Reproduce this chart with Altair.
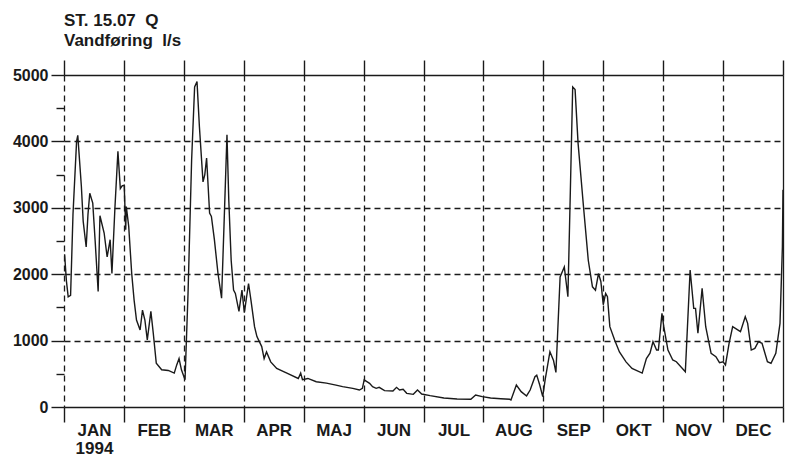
import altair as alt
import pandas as pd

# Month labels and year
months = ["JAN", "FEB", "MAR", "APR", "MAJ", "JUN", "JUL", "AUG", "SEP", "OKT", "NOV", "DEC"]
year_label = "1994"

# Y axis tick values (l/s)
y_ticks = [0, 500, 1000, 1500, 2000, 2500, 3000, 3500, 4000, 4500, 5000]

# Time position in months since 1 Jan (0 = 1 Jan, 12 = 31 Dec)
pos = [0.01, 0.04, 0.07, 0.11, 0.15, 0.21, 0.23, 0.29, 0.32, 0.37, 0.40, 0.43, 0.48, 0.52, 0.57,
       0.60, 0.67, 0.72, 0.77, 0.80, 0.85, 0.90, 0.94, 0.97, 1.005, 1.03, 1.04, 1.08, 1.13, 1.17,
       1.21, 1.27, 1.31, 1.35, 1.39, 1.45, 1.49, 1.54, 1.63, 1.74, 1.84, 1.88, 1.92, 1.96, 2.02,
       2.07, 2.13, 2.18, 2.22, 2.26, 2.32, 2.35, 2.38, 2.43, 2.46, 2.51, 2.57, 2.63, 2.67, 2.72,
       2.75, 2.79, 2.83, 2.86, 2.92, 2.97, 3.01, 3.08, 3.12, 3.18, 3.22, 3.30, 3.34, 3.38, 3.45,
       3.55, 3.72, 3.91, 3.95, 3.98, 4.07, 4.21, 4.38, 4.54, 4.65, 4.82, 4.93, 4.98, 5.01, 5.10,
       5.15, 5.21, 5.26, 5.35, 5.49, 5.55, 5.60, 5.66, 5.72, 5.83, 5.90, 5.97, 6.11, 6.34, 6.56,
       6.79, 6.87, 6.98, 7.12, 7.29, 7.44, 7.46, 7.55, 7.63, 7.72, 7.78, 7.86, 7.89, 7.94, 7.99,
       8.03, 8.11, 8.17, 8.21, 8.28, 8.35, 8.41, 8.45, 8.49, 8.53, 8.58, 8.67, 8.75, 8.82, 8.87,
       8.92, 8.96, 9.00, 9.04, 9.07, 9.11, 9.19, 9.27, 9.38, 9.48, 9.65, 9.72, 9.78, 9.83, 9.89,
       9.92, 9.98, 10.01, 10.08, 10.16, 10.22, 10.37, 10.45, 10.51, 10.54, 10.58, 10.65, 10.71, 10.80, 10.88,
       10.94, 11.00, 11.04, 11.10, 11.16, 11.29, 11.37, 11.41, 11.47, 11.53, 11.59, 11.65, 11.74, 11.80, 11.88,
       11.95, 11.99, 12.0]

# Discharge (l/s)
flow = [2300, 1900, 1660, 1680, 2900, 4000, 4090, 3320, 2800, 2410, 2900, 3220, 3070, 2500, 1740,
        2880, 2620, 2260, 2520, 2010, 3000, 3850, 3290, 3330, 3340, 2670, 3020, 2720, 2010, 1610,
        1310, 1160, 1460, 1310, 1010, 1440, 1110, 660, 560, 550, 510, 630, 730, 560, 410,
        1710, 3720, 4820, 4900, 4220, 3390, 3500, 3750, 2920, 2870, 2520, 2010, 1640, 2720, 4100,
        3120, 2210, 1760, 1710, 1440, 1760, 1420, 1860, 1610, 1210, 1060, 910, 730, 830, 680,
        580, 510, 430, 510, 410, 430, 380, 360, 330, 306, 280, 256, 280, 407, 357,
        306, 281, 296, 246, 241, 296, 256, 266, 206, 191, 256, 196, 171, 136, 120,
        116, 181, 156, 136, 125, 116, 105, 331, 231, 166, 256, 457, 480, 331, 156,
        407, 833, 700, 520, 1960, 2110, 1660, 3220, 4820, 4780, 3970, 3020, 2210, 1810, 1760,
        2010, 1890, 1540, 1710, 1660, 1210, 1010, 830, 680, 580, 510, 730, 810, 983, 858,
        858, 1410, 1210, 858, 708, 682, 532, 2063, 1486, 1486, 1110, 1787, 1209, 808, 758,
        667, 682, 633, 959, 1209, 1134, 1360, 1260, 858, 883, 983, 959, 682, 657, 808,
        1260, 2414, 3270]

df = pd.DataFrame({"pos": pos, "flow": flow})

FONT = "Liberation Sans"
INK = "#1a1a1a"

month_js = "[" + ",".join("'" + m + "'" for m in months) + "]"
label_expr = (
    "datum.value % 1 === 0 ? '' : (floor(datum.value) === 0 ? ['"
    + months[0] + "', '" + year_label + "'] : " + month_js + "[floor(datum.value)])"
)

x_vals = [i / 2 for i in range(0, 25)]
dash = [6, 4]

x_bottom = alt.X(
    "pos:Q",
    scale=alt.Scale(domain=[0, 12], nice=False, zero=False),
    axis=alt.Axis(
        values=x_vals,
        title=None,
        orient="bottom",
        domain=False,
        labelExpr=label_expr,
        labelFont=FONT,
        labelFontSize=17,
        labelFontWeight="bold",
        labelColor=INK,
        labelPadding=0,
        labelLineHeight=18,
        labelOverlap=False,
        labelFlush=False,
        labelBound=False,
        ticks=True,
        tickSize=15,
        tickColor=INK,
        tickWidth=1.4,
        tickOpacity={"condition": {"test": "datum.value % 1 !== 0", "value": 0}, "value": 1},
        grid=True,
        gridColor=INK,
        gridWidth=1.3,
        gridOpacity={"condition": {"test": "datum.value % 1 !== 0", "value": 0}, "value": 1},
        gridDash={"condition": {"test": "datum.value === 12", "value": []}, "value": dash},
    ),
)

y_left = alt.Y(
    "flow:Q",
    scale=alt.Scale(domain=[0, 5000], nice=False),
    axis=alt.Axis(
        values=y_ticks,
        title=None,
        domain=False,
        labelExpr="datum.value % 1000 === 0 ? datum.label : ''",
        format="d",
        labelFont=FONT,
        labelFontSize=16,
        labelFontWeight="bold",
        labelColor=INK,
        labelPadding=3,
        tickColor=INK,
        tickWidth=1.4,
        tickSize={"condition": {"test": "datum.value % 1000 !== 0", "value": 8}, "value": 13},
        grid=True,
        gridColor=INK,
        gridWidth=1.3,
        gridOpacity={"condition": {"test": "datum.value % 1000 !== 0", "value": 0}, "value": 1},
        gridDash={"condition": {"test": "datum.value === 0 || datum.value === 5000", "value": []},
                  "value": dash},
    ),
)

line = alt.Chart(df).mark_line(color=INK, strokeWidth=1.4).encode(x=x_bottom, y=y_left)

top_axis_layer = alt.Chart(df).mark_point(opacity=0).encode(
    x=alt.X(
        "pos:Q",
        axis=alt.Axis(
            values=list(range(13)),
            orient="top",
            title=None,
            labels=False,
            domain=False,
            grid=False,
            tickSize=15,
            tickColor=INK,
            tickWidth=1.4,
        ),
    ),
)

chart = (
    alt.layer(line, top_axis_layer)
    .resolve_axis(x="independent")
    .properties(
        width=719,
        height=332,
        autosize=alt.AutoSizeParams(type="none"),
        padding={"left": 64, "top": 75, "right": 3, "bottom": 51},
        background="white",
        title=alt.TitleParams(
            text=["ST. 15.07\u00a0\u00a0Q", "Vandføring\u00a0\u00a0l/s"],
            anchor="start",
            frame="group",
            font=FONT,
            fontSize=17,
            fontWeight="bold",
            color=INK,
            lineHeight=20,
            offset=9,
        ),
    )
    .configure_view(stroke=None)
)

chart.save("out.html", embed_options={"renderer": "svg", "actions": False})
